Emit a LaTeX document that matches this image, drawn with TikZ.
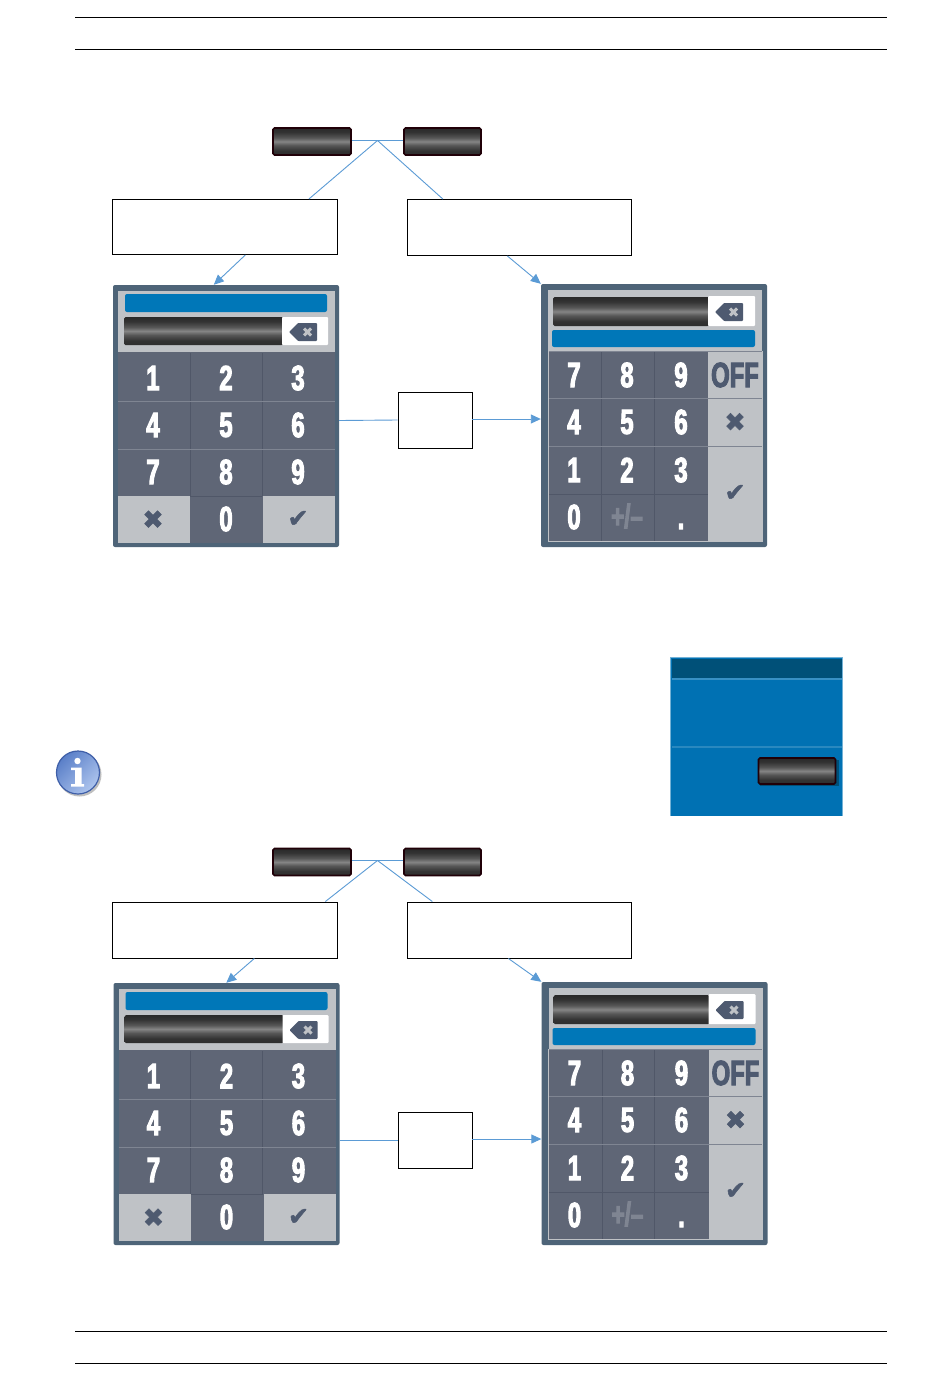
\documentclass[tikz,border=0pt]{standalone}
\usepackage{fontspec}
\setmainfont{Liberation Sans}
\newfontfamily\digitfont[FakeStretch=0.68,FakeBold=3]{Liberation Sans Bold}
\newfontfamily\symfont[FakeBold=2]{DejaVu Sans}
\usetikzlibrary{arrows.meta,calc}
\definecolor{conn}{HTML}{5B9BD5}
\definecolor{padouter}{HTML}{4E6478}
\definecolor{keyc}{HTML}{5F6676}
\definecolor{keysep}{HTML}{505768}
\definecolor{keylt}{HTML}{7F8592}
\definecolor{greyc}{HTML}{BFC2C6}
\definecolor{barblue}{HTML}{0077B8}
\definecolor{panelblue}{HTML}{0071B3}
\definecolor{headblue}{HTML}{005078}
\definecolor{symc}{HTML}{4E5A70}
\definecolor{btnedge}{HTML}{200008}
\definecolor{infodark}{HTML}{5A7FC8}
\definecolor{infolight}{HTML}{AEC5EE}
\definecolor{infoedge}{HTML}{3F5FA8}
\pgfdeclareverticalshading{barshade}{100bp}{%
 color(0bp)=(black!82); color(25bp)=(black!82); color(33bp)=(black!80);
 color(43bp)=(black!66); color(50bp)=(black!48); color(57bp)=(black!66);
 color(67bp)=(black!80); color(75bp)=(black!84); color(100bp)=(black!84)}
\tikzset{
 x=1pt,y=-1pt,
 rule/.style={draw=black,line width=0.8pt},
 conline/.style={draw=conn,line width=0.9pt},
 conarrow/.style={draw=conn,line width=0.9pt,-{Triangle[length=10pt,width=9pt,fill=conn]}},
 blank/.style={draw=black,line width=0.9pt,fill=white,inner sep=0pt,rectangle},
 barbtn/.style={rectangle,rounded corners=1.5pt,draw=btnedge,line width=1.6pt,shading=barshade,inner sep=0pt,minimum width=78pt,minimum height=27pt},
 padframe/.style={rectangle,rounded corners=2pt,fill=padouter,inner sep=0pt,minimum width=226pt,minimum height=262pt},
 keytxt/.style={font=\digitfont\fontsize{35}{35}\selectfont,text=white,inner sep=0pt},
 symtxt/.style={font=\symfont\fontsize{25}{25}\selectfont,text=symc,inner sep=0pt},
}
\newcommand{\backicon}[2]{% tip x, y
 \fill[symc,rounded corners=0.8pt] (#1,#2) -- (#1+9,#2-9) -- (#1+28,#2-9) -- (#1+28,#2+9) -- (#1+9,#2+9) -- cycle;
 \draw[greyc,line width=3pt] (#1+15,#2-3.5) -- (#1+22,#2+3.5) (#1+15,#2+3.5) -- (#1+22,#2-3.5);
}
\newcommand{\padleft}[3]{% name, dx, dy
\begin{scope}[shift={(#2,#3)}]
 \node[padframe] (#1) at (226,416) {};
 \fill[greyc] (118,291) rectangle (335,352);
 \fill[barblue,rounded corners=2pt] (125,294) rectangle (327,312);
 \shade[shading=barshade,rounded corners=1.5pt] (124,317) rectangle (283,345);
 \fill[white,rounded corners=1pt] (282,317) rectangle (328,345);
 \backicon{289}{332}
 \fill[keyc] (118,352) rectangle (335,543);
 \fill[greyc] (118,496) rectangle (190,543);
 \fill[greyc] (263,496) rectangle (335,543);
 \draw[keysep,line width=1pt] (190,353) -- (190,496) (262,353) -- (262,496);
 \draw[keylt,line width=0.8pt] (118,401.5) -- (335,401.5) (118,449) -- (335,449);
 \draw[keysep,line width=0.8pt] (190,496) -- (262,496);
 \foreach \d/\x/\y in {1/153/378,2/226/378,3/298/378,4/153/425,5/226/425,6/298/425,7/153/472,8/226/472,9/298/472,0/226/519}
  \node[keytxt] (#1k\d) at (\x,\y) {\d};
 \node[symtxt] (#1no) at (153,519.5) {✖};
 \node[symtxt] (#1yes) at (298,519) {✔};
\end{scope}}
\newcommand{\padright}[3]{% name, dx, dy
\begin{scope}[shift={(#2,#3)}]
 \node[padframe,minimum height=263pt] (#1) at (654,415.5) {};
 \fill[greyc] (548,290) rectangle (762,351);
 \shade[shading=barshade,rounded corners=1.5pt] (553,297) rectangle (709,326);
 \fill[white,rounded corners=1pt] (708,296) rectangle (755,326);
 \backicon{715}{312}
 \fill[barblue,rounded corners=2pt] (552,330) rectangle (755,347);
 \fill[keyc] (548,351) rectangle (708,541);
 \fill[greyc] (708,351) rectangle (762,541);
 \draw[keysep,line width=1pt] (601.5,351) -- (601.5,541) (654,351) -- (654,541);
 \draw[keylt,line width=1pt] (548,351) -- (762,351) (548,398.5) -- (762,398.5) (548,446.5) -- (762,446.5);
 \draw[keysep,line width=0.8pt] (548,494) -- (708,494);
 \draw[greyc,line width=0.8pt] (548,351) -- (548,541) -- (762,541) -- (762,351);
 \foreach \d/\x/\y in {7/574/375,8/627/375,9/681/375,4/574/422,5/627/422,6/681/422,1/574/470,2/627/470,3/681/470,0/574/517}
  \node[keytxt] (#1k\d) at (\x,\y) {\d};
 \node[keytxt,text=keylt,font=\digitfont\fontsize{33}{33}\selectfont] (#1pm) at (627,516) {+/–};
 \node[keytxt] (#1dot) at (681,526.5) {.};
 \node[keytxt,text=symc] (#1off) at (735,375) {OFF};
 \node[symtxt] (#1no) at (735,422) {✖};
 \node[symtxt] (#1yes) at (735,493) {✔};
\end{scope}}
\begin{document}
\begin{tikzpicture}
\useasboundingbox (0,0) rectangle (950,1378);
\fill[white] (0,0) rectangle (950,1378);
% page rules
\draw[rule] (75,17) -- (887,17);
\draw[rule] (75,49) -- (887,49);
\draw[rule] (75,1331) -- (887,1331);
\draw[rule] (75,1363) -- (887,1363);
% first group
\padleft{padA}{0}{0}
\padright{padB}{0}{0}
\node[barbtn] (btnA) at (312,141.5) {};
\node[barbtn,minimum width=77pt] (btnB) at (442.5,141.5) {};
\node[blank,minimum width=225pt,minimum height=55pt] (boxA) at (224.8,227) {};
\node[blank,minimum width=224pt,minimum height=56pt] (boxB) at (519.3,227.5) {};
\node[blank,minimum width=74pt,minimum height=56pt] (boxC) at (435,420) {};
\coordinate (apexA) at ($([yshift=1pt]btnA.east)!0.5!([yshift=1pt]btnB.west)$);
\draw[conline] ([yshift=1pt]btnA.east) -- ([yshift=1pt]btnB.west);
\draw[conline] (apexA) -- ([xshift=197pt]boxA.north west);
\draw[conline] (apexA) -- ([xshift=36pt]boxB.north west);
\draw[conarrow] ([xshift=133.5pt]boxA.south west) -- ([xshift=101pt]padA.north west);
\draw[conarrow] ([xshift=100.5pt]boxB.south west) -- (padB.north west);
\draw[conline] ([yshift=-4.5pt]padA.east) -- (boxC.west);
\draw[conarrow] ([yshift=1pt]boxC.east) -- ([yshift=-3.5pt]padB.west);
% note panel
\fill[panelblue] (670.5,657.5) rectangle (843,815.5);
\draw[white!45!panelblue,line width=1.2pt] (670.5,815.5) -- (670.5,657.5) -- (842.5,657.5) -- (842.5,815.5);
\fill[headblue] (672,658.5) rectangle (842,678);
\fill[white!22!panelblue] (672,678) rectangle (842,680);
\fill[white!16!panelblue] (672,745.5) rectangle (842,747.5);
\fill[headblue] (760,760) rectangle (838.5,786);
\node[barbtn,minimum width=77pt,minimum height=26pt] (btnP) at (797,771) {};
% info icon
\fill[black!25] (79.5,774.5) circle (22);
\shade[top color=infodark,bottom color=infolight,shading angle=45,draw=infoedge,line width=1.2pt] (78,772.5) circle (21.5);
\fill[white] (77.5,761) circle (3.2);
\fill[white] (71,767.5) -- (81.5,767.5) -- (81.5,784) -- (84,784) -- (84,786.5) -- (71,786.5) -- (71,784) -- (75,784) -- (75,770) -- (71,770) -- cycle;
% second group
\padleft{padC}{0.5}{698}
\padright{padD}{0.5}{698}
\node[barbtn] (btnC) at (312,862) {};
\node[barbtn,minimum width=77pt] (btnD) at (442.5,862) {};
\node[blank,minimum width=225pt,minimum height=56pt] (boxD) at (224.8,930) {};
\node[blank,minimum width=224pt,minimum height=56pt] (boxE) at (519.3,930) {};
\node[blank,minimum width=74pt,minimum height=56pt] (boxF) at (435,1140) {};
\coordinate (apexB) at ($([yshift=1.5pt]btnC.east)!0.5!([yshift=1.5pt]btnD.west)$);
\draw[conline] ([yshift=1.5pt]btnC.east) -- ([yshift=1.5pt]btnD.west);
\draw[conline] (apexB) -- ([xshift=213.5pt]boxD.north west);
\draw[conline] (apexB) -- ([xshift=25.5pt]boxE.north west);
\draw[conarrow] ([xshift=142.5pt]boxD.south west) -- ([xshift=113pt]padC.north west);
\draw[conarrow] ([xshift=101.5pt]boxE.south west) -- (padD.north west);
\draw[conline] ([yshift=-26pt]padC.east) -- (boxF.west);
\draw[conarrow] ([yshift=1pt]boxF.east) -- ([yshift=-25.5pt]padD.west);
\end{tikzpicture}
\end{document}
